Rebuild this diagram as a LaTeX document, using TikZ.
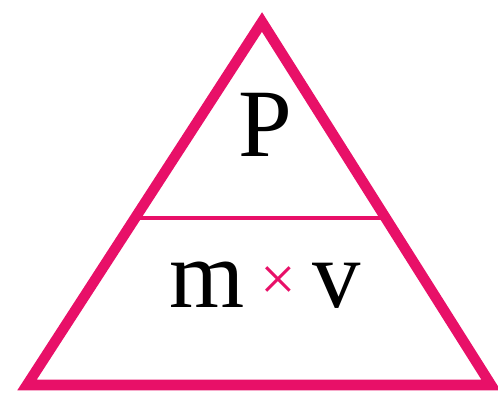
\documentclass[tikz,border=0pt]{standalone}
\usepackage{fontspec}
\setmainfont{Liberation Serif}
\usetikzlibrary{calc}
\definecolor{tripink}{RGB}{232,16,104}

\begin{document}
\begin{tikzpicture}[x=0.02cm,y=-0.02cm]
\tikzstyle{lbl}=[inner sep=0pt,font=\fontsize{55}{64}\selectfont]
\useasboundingbox (0,0) rectangle (498,395);
\coordinate (top) at (262,22);
\coordinate (bl) at (27,385);
\coordinate (br) at (491,385);
\draw[tripink,line width=6pt] (top) -- (br) -- (bl) -- cycle;
\coordinate (ml) at ($(bl)!0.46!(top)$);
\coordinate (mr) at ($(br)!0.46!(top)$);
\draw[tripink,line width=2.2pt] (ml) -- (mr);
\node[lbl,anchor=base] (p) at (265,157) {P};
\node[lbl,anchor=base] (mv) at (265,308) {m\,{\color{tripink}\fontsize{36}{40}\selectfont\raisebox{4pt}{×}}\,v};
\end{tikzpicture}
\end{document}
